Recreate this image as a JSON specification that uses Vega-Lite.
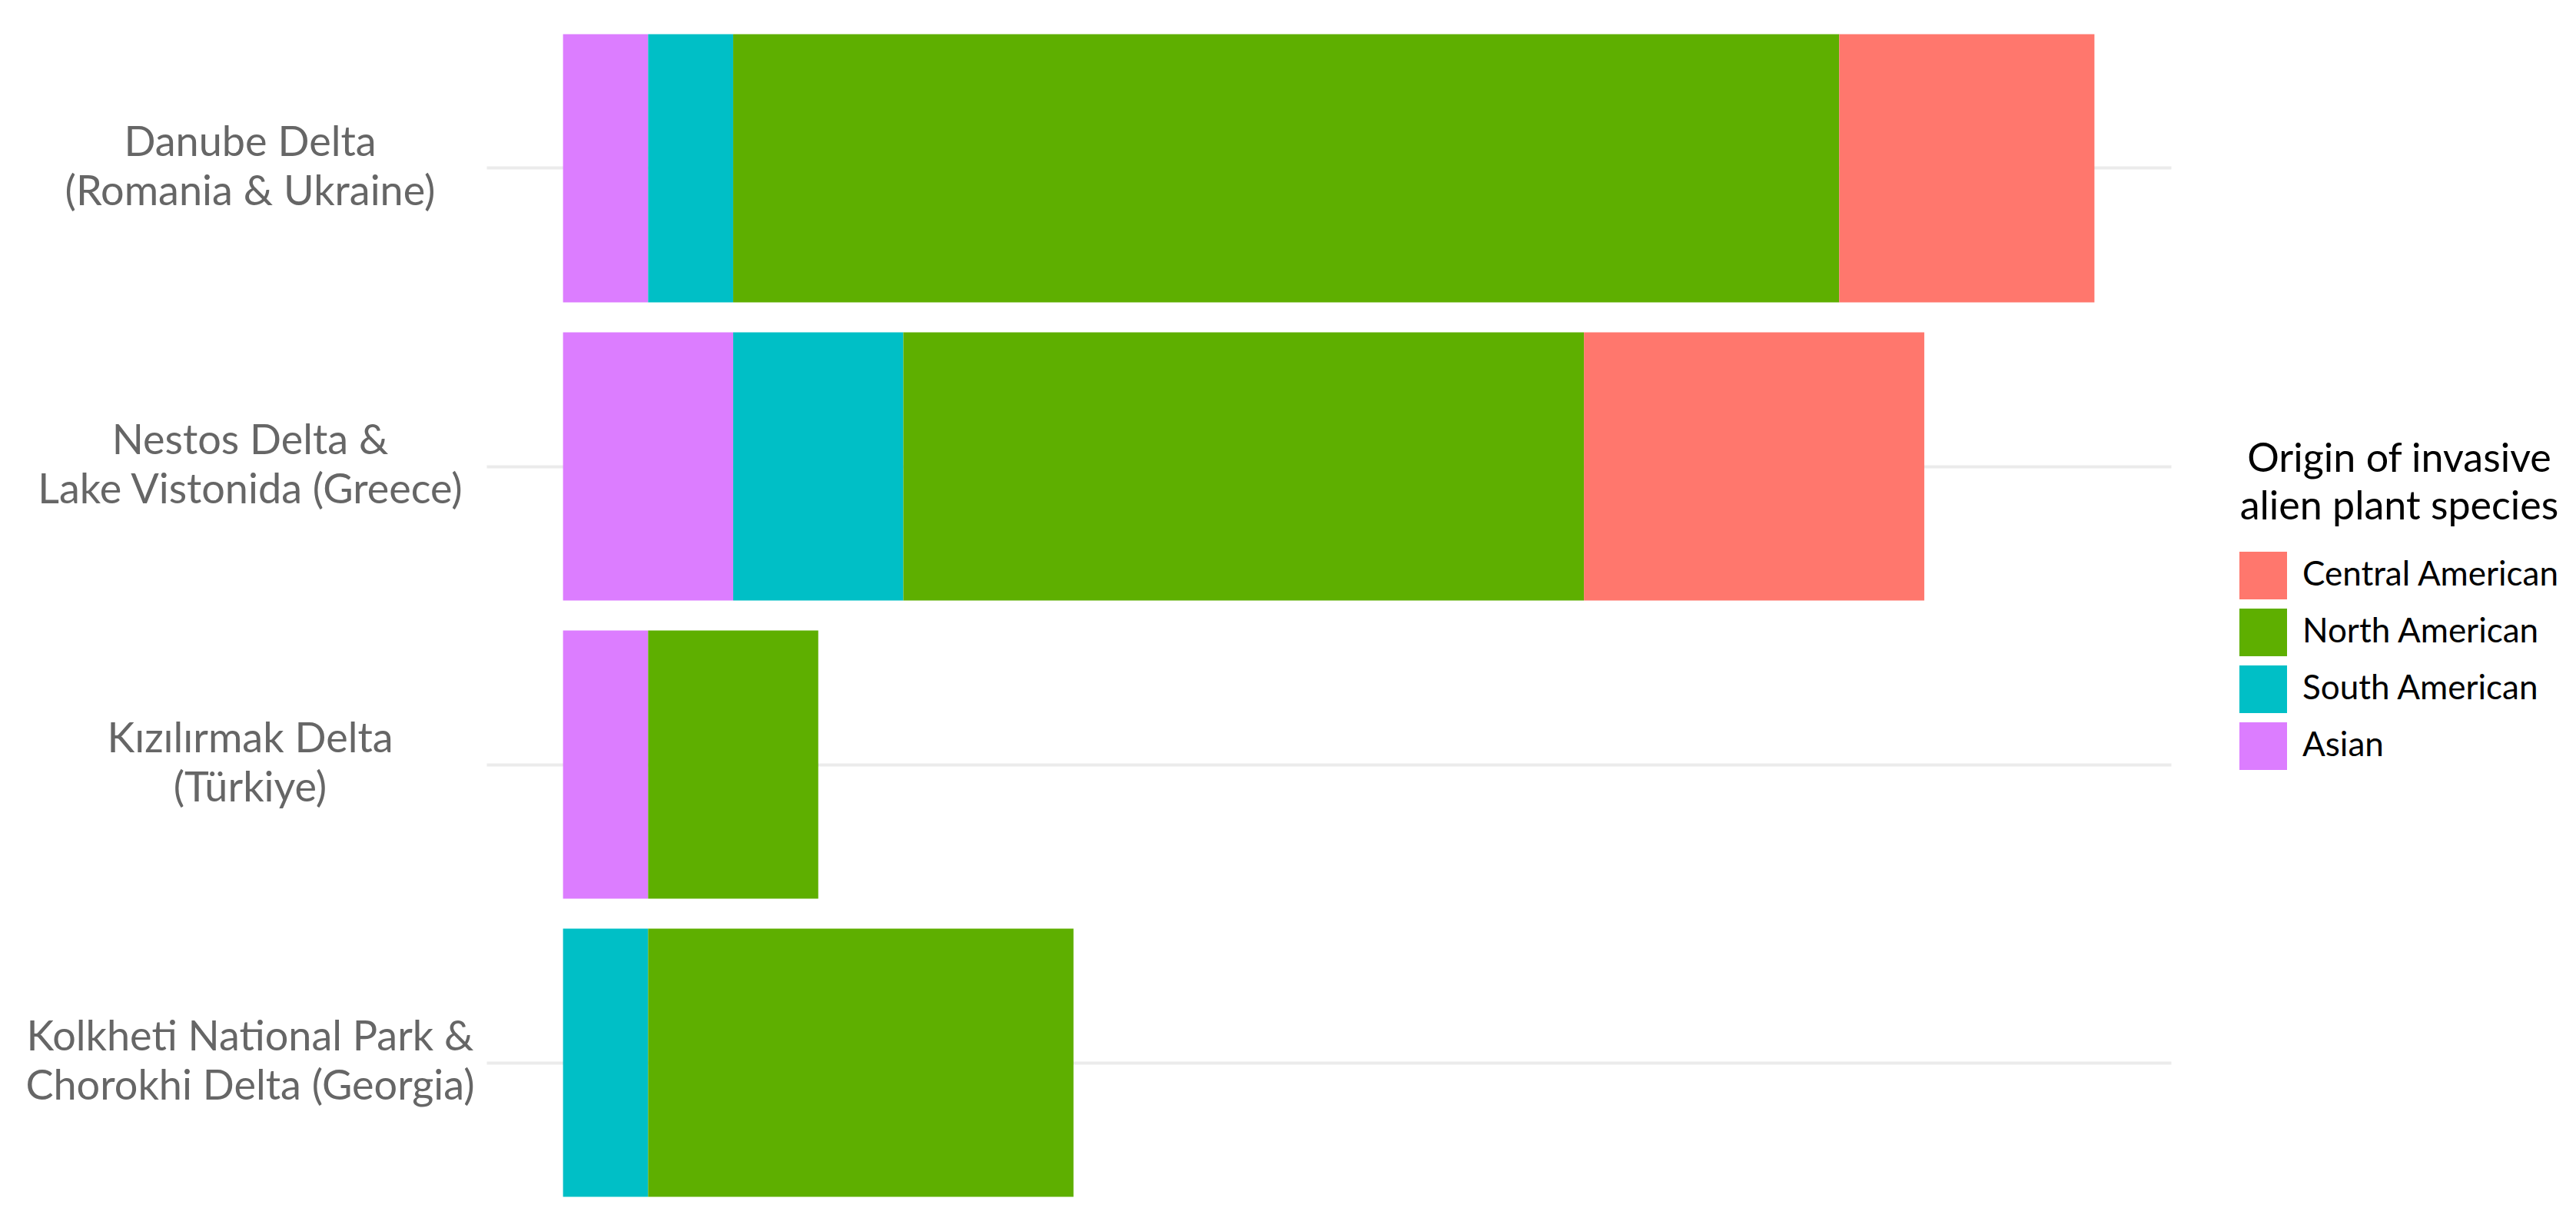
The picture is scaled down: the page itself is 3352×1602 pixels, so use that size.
{
  "$schema": "https://vega.github.io/schema/vega-lite/v6.json",
  "width": 2192,
  "height": 1552,
  "autosize": {"type": "none"},
  "padding": {"left": 633, "top": 25, "right": 527, "bottom": 25},
  "background": "white",
  "config": {"view": {"stroke": null}, "font": "Lato"},
  "data": {
    "values": [
      {"site": "Danube Delta\n(Romania & Ukraine)", "origin": "Asian", "species": 1},
      {"site": "Danube Delta\n(Romania & Ukraine)", "origin": "South American", "species": 1},
      {"site": "Danube Delta\n(Romania & Ukraine)", "origin": "North American", "species": 13},
      {"site": "Danube Delta\n(Romania & Ukraine)", "origin": "Central American", "species": 3},
      {"site": "Nestos Delta &\nLake Vistonida (Greece)", "origin": "Asian", "species": 2},
      {"site": "Nestos Delta &\nLake Vistonida (Greece)", "origin": "South American", "species": 2},
      {"site": "Nestos Delta &\nLake Vistonida (Greece)", "origin": "North American", "species": 8},
      {"site": "Nestos Delta &\nLake Vistonida (Greece)", "origin": "Central American", "species": 4},
      {"site": "Kızılırmak Delta\n(Türkiye)", "origin": "Asian", "species": 1},
      {"site": "Kızılırmak Delta\n(Türkiye)", "origin": "North American", "species": 2},
      {"site": "Kolkheti National Park &\nChorokhi Delta (Georgia)", "origin": "South American", "species": 1},
      {"site": "Kolkheti National Park &\nChorokhi Delta (Georgia)", "origin": "North American", "species": 5}
    ]
  },
  "transform": [
    {"calculate": "indexof(['Asian','South American','North American','Central American'], datum.origin)", "as": "stackOrder"}
  ],
  "mark": {"type": "bar", "strokeWidth": 0},
  "encoding": {
    "y": {
      "field": "site",
      "type": "nominal",
      "sort": null,
      "scale": {"paddingInner": 0.1, "paddingOuter": 0.05},
      "axis": {
        "title": null,
        "domain": false,
        "ticks": false,
        "tickSize": 0,
        "grid": true,
        "gridColor": "#EBEBEB",
        "gridWidth": 4,
        "bandPosition": 0.5,
        "labelExpr": "split(datum.label, '\\n')",
        "labelAlign": "center",
        "labelBaseline": "middle",
        "labelOffset": -32,
        "labelPadding": 308,
        "labelFontSize": 54,
        "labelLineHeight": 64,
        "labelColor": "#666666",
        "labelLimit": 0
      }
    },
    "x": {
      "field": "species",
      "type": "quantitative",
      "stack": "zero",
      "scale": {"domain": [-0.9, 18.9], "nice": false, "zero": false},
      "axis": null
    },
    "order": {"field": "stackOrder", "type": "quantitative", "sort": "ascending"},
    "color": {
      "field": "origin",
      "type": "nominal",
      "scale": {
        "domain": ["Central American", "North American", "South American", "Asian"],
        "range": ["#FF776D", "#5EAF00", "#00BFC6", "#DC7DFF"]
      },
      "legend": {
        "title": ["Origin of invasive", "alien plant species"],
        "orient": "none",
        "legendX": 2281,
        "legendY": 548,
        "padding": 0,
        "titleFontSize": 52,
        "titleFontWeight": "normal",
        "titleColor": "#000000",
        "titleLineHeight": 62,
        "titleLimit": 2000,
        "titleAnchor": "middle",
        "titleAlign": "center",
        "titlePadding": 31,
        "symbolType": "square",
        "symbolSize": 3844,
        "symbolStrokeWidth": 0,
        "symbolOpacity": 1,
        "labelFontSize": 44,
        "labelColor": "#000000",
        "labelOffset": 20,
        "labelLimit": 0,
        "rowPadding": 12
      }
    }
  }
}
